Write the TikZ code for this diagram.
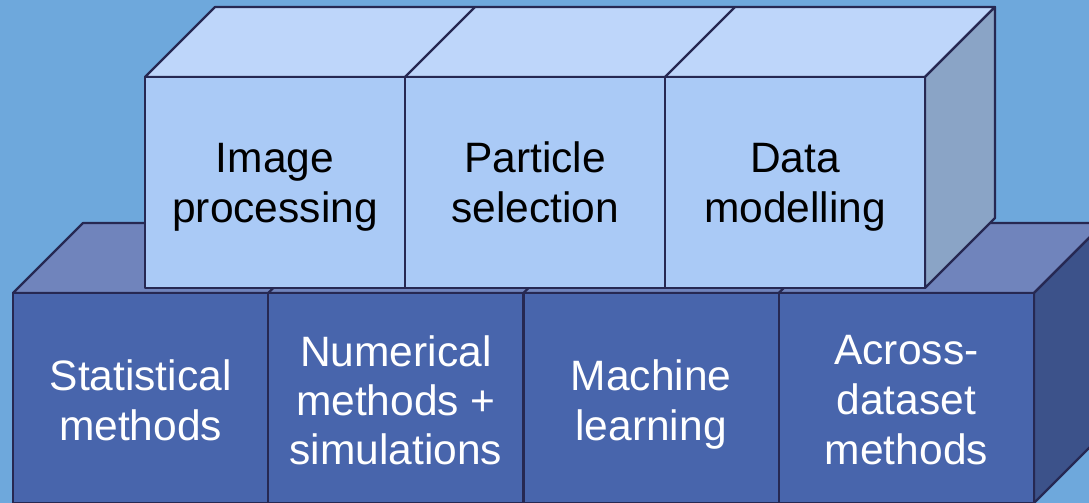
\documentclass[tikz,border=0pt]{standalone}
\usepackage{fontspec}
\setmainfont{Liberation Sans}
\definecolor{bg}{RGB}{110,168,220}
\definecolor{lowfront}{RGB}{72,101,172}
\definecolor{lowtop}{RGB}{112,132,188}
\definecolor{lowside}{RGB}{60,82,138}
\definecolor{upfront}{RGB}{170,202,246}
\definecolor{uptop}{RGB}{190,214,250}
\definecolor{upside}{RGB}{138,164,198}
\definecolor{edge}{RGB}{38,40,82}
\begin{document}
\begin{tikzpicture}[x=1pt,y=-1pt,
  face/.style={draw=edge,line width=2.2pt,line join=round},
  lowbox/.style={face,fill=lowfront,inner sep=0pt,outer sep=0pt,
    minimum width=255.25pt,minimum height=210pt},
  upbox/.style={face,fill=upfront,inner sep=0pt,outer sep=0pt,
    minimum width=260pt,minimum height=211pt},
  lowtxt/.style={text=white,align=center,inner sep=0pt,anchor=base,
    font=\fontsize{42.5}{50}\selectfont},
  uptxt/.style={text=black,align=center,inner sep=0pt,anchor=base,
    font=\fontsize{42.5}{50}\selectfont}]
\useasboundingbox (0,0) rectangle (1089,503);
\clip (0,0) rectangle (1089,503);
\fill[bg] (0,0) rectangle (1089,503);
% lower row: top and side faces
\draw[face,fill=lowtop] (13,293) -- (83,223) -- (1104,223) -- (1034,293) -- cycle;
\foreach \x in {268.25,523.5,778.75} \draw[face] (\x,293) -- (\x+70,223);
\draw[face,fill=lowside] (1034,293) -- (1104,223) -- (1104,433) -- (1034,503) -- cycle;
% lower row: front faces
\node[lowbox] (l1) at (140.6,398) {};
\node[lowbox] (l2) at (395.9,398) {};
\node[lowbox] (l3) at (651.1,398) {};
\node[lowbox] (l4) at (906.4,398) {};
\node[lowtxt] (l1t) at (l1.center |- 0,440) {Statistical\\methods};
\node[lowtxt,font=\fontsize{42.5}{49}\selectfont] (l2t) at (l2.center |- 0,464) {Numerical\\methods +\\simulations};
\node[lowtxt] (l3t) at (l3.center |- 0,440) {Machine\\learning};
\node[lowtxt] (l4t) at (l4.center |- 0,464) {Across-\\dataset\\methods};
% upper row: top and side faces
\draw[face,fill=uptop] (145,77) -- (215,7) -- (995,7) -- (925,77) -- cycle;
\foreach \x in {405,665} \draw[face] (\x,77) -- (\x+70,7);
\draw[face,fill=upside] (925,77) -- (995,7) -- (995,218) -- (925,288) -- cycle;
% upper row: front faces
\node[upbox] (u1) at (275,182.5) {};
\node[upbox] (u2) at (535,182.5) {};
\node[upbox] (u3) at (795,182.5) {};
\node[uptxt] (u1t) at (u1.center |- 0,222) {Image\\processing};
\node[uptxt] (u2t) at (u2.center |- 0,222) {Particle\\selection};
\node[uptxt] (u3t) at (u3.center |- 0,222) {Data\\modelling};
\end{tikzpicture}
\end{document}
